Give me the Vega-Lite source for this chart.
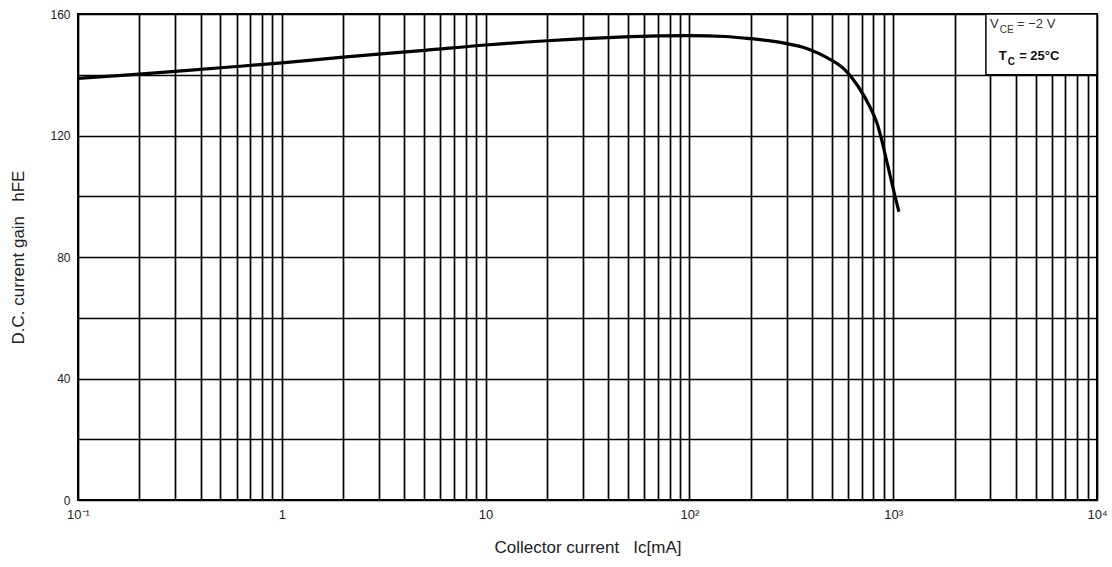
{
  "$schema": "https://vega.github.io/schema/vega-lite/v6.json",
  "autosize": {"type": "none"},
  "padding": {"left": 78, "top": 14, "right": 15, "bottom": 67},
  "width": 1019,
  "height": 486,
  "background": "white",
  "config": {
    "view": {"stroke": "black", "strokeWidth": 2},
    "font": "Liberation Sans"
  },
  "datasets": {
    "curve": [
      {"ic": 0.1, "hfe": 138.8},
      {"ic": 0.2, "hfe": 140.2},
      {"ic": 0.5, "hfe": 142.3},
      {"ic": 1, "hfe": 143.9},
      {"ic": 2, "hfe": 145.8},
      {"ic": 5, "hfe": 148.0},
      {"ic": 10, "hfe": 149.8},
      {"ic": 20, "hfe": 151.2},
      {"ic": 45, "hfe": 152.4},
      {"ic": 70, "hfe": 152.8},
      {"ic": 100, "hfe": 152.9},
      {"ic": 150, "hfe": 152.6},
      {"ic": 192, "hfe": 152.0},
      {"ic": 288, "hfe": 150.5},
      {"ic": 382, "hfe": 148.5},
      {"ic": 478, "hfe": 145.5},
      {"ic": 580, "hfe": 141.6},
      {"ic": 671, "hfe": 136.3},
      {"ic": 769, "hfe": 129.4},
      {"ic": 833, "hfe": 124.0},
      {"ic": 946, "hfe": 109.4},
      {"ic": 1021, "hfe": 100.0},
      {"ic": 1067, "hfe": 94.9}
    ],
    "box": [{"x1": 2850, "x2": 10000, "y1": 140, "y2": 160}],
    "mainText": [
      {"x": 2985, "y": 156.7, "t": "V", "row": 1},
      {"x": 4050, "y": 156.7, "t": "= −2 V", "row": 1},
      {"x": 3300, "y": 146.2, "t": "T", "row": 2},
      {"x": 4150, "y": 146.2, "t": "= 25°C", "row": 2}
    ],
    "subText": [
      {"x": 3330, "y": 154.8, "t": "CE", "row": 1},
      {"x": 3650, "y": 144.3, "t": "C", "row": 2}
    ]
  },
  "layer": [
    {
      "data": {"name": "curve"},
      "mark": {"type": "line", "color": "black", "strokeWidth": 3.2, "interpolate": "monotone", "clip": true},
      "encoding": {
        "x": {
          "field": "ic", "type": "quantitative",
          "scale": {"type": "log", "domain": [0.1, 10000], "nice": false},
          "axis": {
            "title": "Collector current\u00a0\u00a0\u00a0Ic[mA]",
            "titleFontSize": 17, "titleFontWeight": "normal", "titleColor": "#222",
            "titlePadding": 18,
            "values": [0.1,0.2,0.3,0.4,0.5,0.6,0.7,0.8,0.9,1,2,3,4,5,6,7,8,9,10,20,30,40,50,60,70,80,90,100,200,300,400,500,600,700,800,900,1000,2000,3000,4000,5000,6000,7000,8000,9000,10000],
            "labelExpr": "abs(log(datum.value)/LN10 - round(log(datum.value)/LN10)) > 0.01 ? '' : (round(log(datum.value)/LN10) == -1 ? '10⁻¹' : round(log(datum.value)/LN10) == 0 ? '1' : round(log(datum.value)/LN10) == 1 ? '10' : round(log(datum.value)/LN10) == 2 ? '10²' : round(log(datum.value)/LN10) == 3 ? '10³' : '10⁴')",
            "labelFontSize": 13, "labelColor": "#222", "labelPadding": 8,
            "labelOverlap": false, "labelFlush": false,
            "ticks": false, "domain": false,
            "grid": true, "gridColor": "black", "gridWidth": 1.7, "gridOpacity": 1
          }
        },
        "y": {
          "field": "hfe", "type": "quantitative",
          "scale": {"domain": [0, 160], "nice": false},
          "axis": {
            "title": "D.C. current gain\u00a0\u00a0\u00a0hFE",
            "titleFontSize": 17, "titleFontWeight": "normal", "titleColor": "#222",
            "titlePadding": 22,
            "values": [0,20,40,60,80,100,120,140,160],
            "labelExpr": "datum.value % 40 == 0 ? datum.label : ''",
            "labelFontSize": 12, "labelColor": "#222", "labelPadding": 8,
            "labelOverlap": false,
            "ticks": false, "domain": false,
            "grid": true, "gridColor": "black", "gridWidth": 1.7, "gridOpacity": 1
          }
        }
      }
    },
    {
      "data": {"name": "box"},
      "mark": {"type": "rect", "fill": "white", "stroke": "black", "strokeWidth": 1.5},
      "encoding": {
        "x": {"field": "x1", "type": "quantitative"},
        "x2": {"field": "x2"},
        "y": {"field": "y1", "type": "quantitative"},
        "y2": {"field": "y2"}
      }
    },
    {
      "data": {"name": "mainText"},
      "transform": [{"filter": "datum.row == 1"}],
      "mark": {"type": "text", "align": "left", "baseline": "middle", "fontSize": 13, "color": "#333"},
      "encoding": {
        "x": {"field": "x", "type": "quantitative"},
        "y": {"field": "y", "type": "quantitative"},
        "text": {"field": "t"}
      }
    },
    {
      "data": {"name": "mainText"},
      "transform": [{"filter": "datum.row == 2"}],
      "mark": {"type": "text", "align": "left", "baseline": "middle", "fontSize": 13, "fontWeight": "bold", "color": "#111"},
      "encoding": {
        "x": {"field": "x", "type": "quantitative"},
        "y": {"field": "y", "type": "quantitative"},
        "text": {"field": "t"}
      }
    },
    {
      "data": {"name": "subText"},
      "transform": [{"filter": "datum.row == 1"}],
      "mark": {"type": "text", "align": "left", "baseline": "middle", "fontSize": 10, "color": "#333"},
      "encoding": {
        "x": {"field": "x", "type": "quantitative"},
        "y": {"field": "y", "type": "quantitative"},
        "text": {"field": "t"}
      }
    },
    {
      "data": {"name": "subText"},
      "transform": [{"filter": "datum.row == 2"}],
      "mark": {"type": "text", "align": "left", "baseline": "middle", "fontSize": 10, "fontWeight": "bold", "color": "#111"},
      "encoding": {
        "x": {"field": "x", "type": "quantitative"},
        "y": {"field": "y", "type": "quantitative"},
        "text": {"field": "t"}
      }
    }
  ]
}
